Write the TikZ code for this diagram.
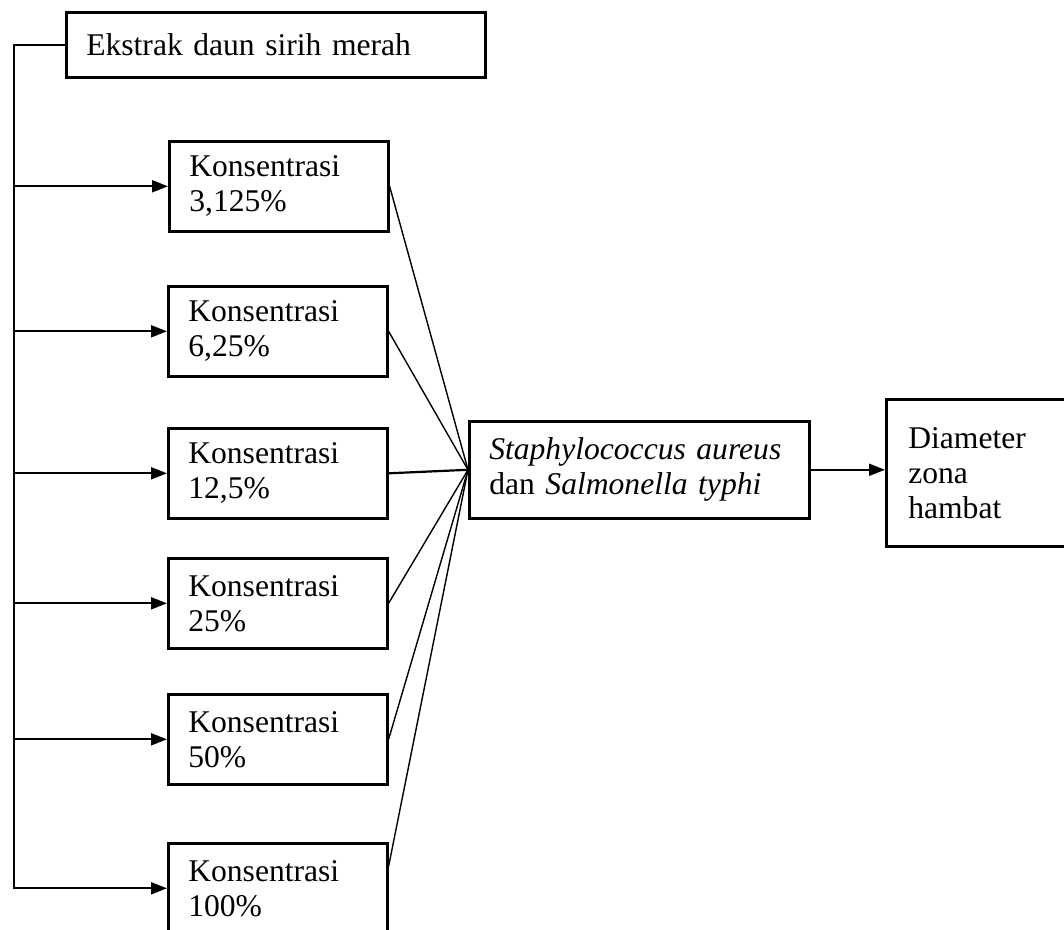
\documentclass[tikz,border=0pt]{standalone}
\usepackage{fontspec}
\setmainfont{Liberation Serif}
\usetikzlibrary{arrows.meta}

\tikzset{
  box/.style={draw, line width=1.3pt, align=left, anchor=north west,
    inner xsep=10pt, inner ysep=2pt,
    font=\fontsize{15.8}{17.5}\selectfont},
  konsbox/.style={box, text width=89.5pt, minimum height=45pt},
  arr/.style={-{Triangle[length=8pt,width=6pt]}, line width=1pt},
  link/.style={line width=0.7pt}
}

\begin{document}
\begin{tikzpicture}[x=0.5pt, y=-0.5pt]
\useasboundingbox (0,0) rectangle (1064,930);

\coordinate (sx) at (14,0);

\node[box, text width=189.5pt, minimum height=32.5pt] (ekstrak) at (65,11)
  {Ekstrak daun sirih merah};

\node[konsbox] (k1) at (168,140) {Konsentrasi\\3,125\%};
\node[konsbox] (k2) at (167,285) {Konsentrasi\\6,25\%};
\node[konsbox] (k3) at (167,427) {Konsentrasi\\12,5\%};
\node[konsbox] (k4) at (167,557) {Konsentrasi\\25\%};
\node[konsbox] (k5) at (167,693) {Konsentrasi\\50\%};
\node[konsbox] (k6) at (167,842) {Konsentrasi\\100\%};

\node[box, text width=150pt, minimum height=48.5pt] (bakteri) at (468,420)
  {\textit{Staphylococcus aureus}\\dan \textit{Salmonella typhi}};

\node[box, inner xsep=11pt, text width=80pt, minimum height=73.5pt] (zona) at (885,398)
  {Diameter\\zona\\hambat};

% spine and arrows to the concentrations
\draw[arr] (ekstrak.west) -| (k6.west -| sx) -- (k6.west);
\draw[arr] (k1.west -| sx) -- (k1.west);
\draw[arr] (k2.west -| sx) -- (k2.west);
\draw[arr] (k3.west -| sx) -- (k3.west);
\draw[arr] (k4.west -| sx) -- (k4.west);
\draw[arr] (k5.west -| sx) -- (k5.west);

% concentrations to the bacteria
\draw[link] (k1.east) -- (bakteri.west);
\draw[link] (k2.east) -- (bakteri.west);
\draw[link, line width=1.1pt] (k3.east) -- (bakteri.west);
\draw[link] (k4.east) -- (bakteri.west);
\draw[link] (k5.east) -- (bakteri.west);
\draw[link] ([yshift=11pt]k6.east) -- (bakteri.west);

\draw[arr] (bakteri.east) -- (bakteri.east -| zona.west);
\end{tikzpicture}
\end{document}
